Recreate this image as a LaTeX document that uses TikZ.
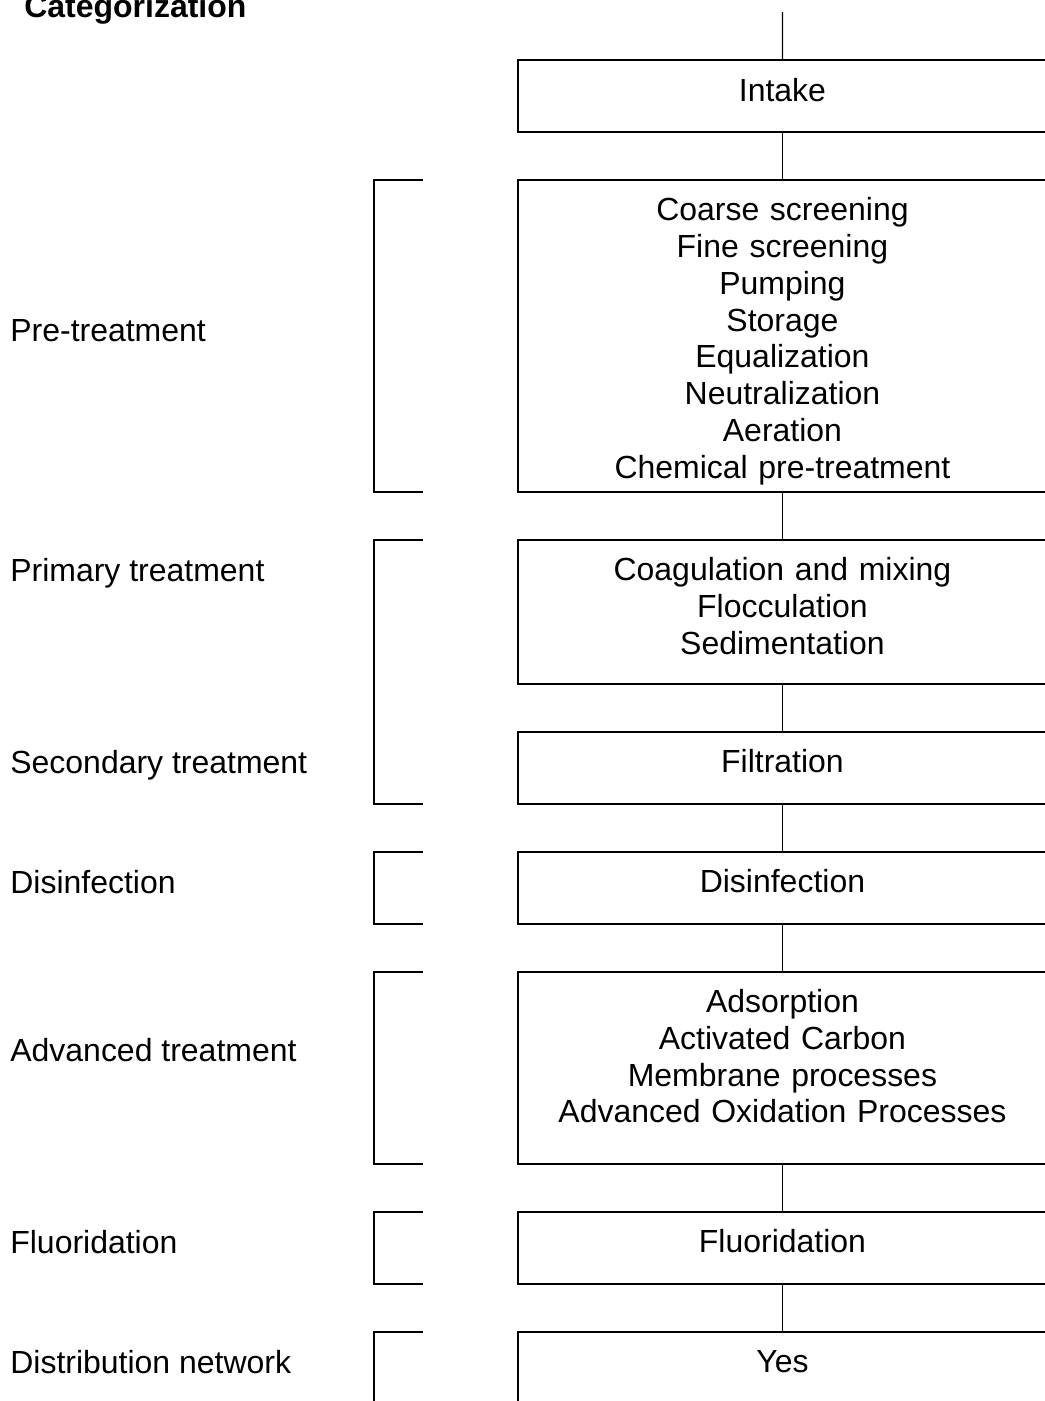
\documentclass[tikz,border=0pt]{standalone}
\usepackage{fontspec}
\setmainfont{Liberation Sans}
\usepackage{tikz}
\usetikzlibrary{positioning}

\begin{document}
\begin{tikzpicture}[
        x=0.02cm, y=-0.02cm,
        node distance=0.96cm,
        stage/.style={rectangle, draw=black, line width=0.9pt, minimum width=10.58cm, inner sep=0pt, outer sep=0pt},
        stagetext/.style={text width=10cm, align=center, inner sep=0pt, anchor=base, font=\fontsize{18.2}{20.9}\selectfont},
        cat/.style={anchor=base west, inner sep=0pt, font=\fontsize{18.2}{20.9}\selectfont},
        bracket/.style={draw=black, line width=0.9pt},
        link/.style={draw=black, line width=0.6pt},
    ]
        \useasboundingbox (0,0) rectangle (1045,1401);

        % Title
        \node[cat, font=\fontsize{18.2}{20.9}\selectfont\bfseries] (title) at (24,17) {Categorization};

        % Stages
        \coordinate (inflow) at (782.5,12);
        \node[stage, minimum height=1.44cm, anchor=north west] (intake) at (518,60) {};
        \node[stage, minimum height=6.24cm, below=of intake] (pre) {};
        \node[stage, minimum height=2.88cm, below=of pre] (prim) {};
        \node[stage, minimum height=1.44cm, below=of prim] (filt) {};
        \node[stage, minimum height=1.44cm, below=of filt] (dis) {};
        \node[stage, minimum height=3.84cm, below=of dis] (adv) {};
        \node[stage, minimum height=1.44cm, below=of adv] (fluor) {};
        \node[stage, minimum height=2.88cm, below=of fluor] (yes) {};

        % Stage texts
        \node[stagetext] (intakeText) at ([yshift=-0.82cm]intake.north) {Intake};
        \node[stagetext] (preText) at ([yshift=-0.82cm]pre.north) {Coarse screening\\Fine screening\\Pumping\\Storage\\Equalization\\Neutralization\\Aeration\\Chemical pre-treatment};
        \node[stagetext] (primText) at ([yshift=-0.82cm]prim.north) {Coagulation and mixing\\Flocculation\\Sedimentation};
        \node[stagetext] (filtText) at ([yshift=-0.82cm]filt.north) {Filtration};
        \node[stagetext] (disText) at ([yshift=-0.82cm]dis.north) {Disinfection};
        \node[stagetext] (advText) at ([yshift=-0.82cm]adv.north) {Adsorption\\Activated Carbon\\Membrane processes\\Advanced Oxidation Processes};
        \node[stagetext] (fluorText) at ([yshift=-0.82cm]fluor.north) {Fluoridation};
        \node[stagetext] (yesText) at ([yshift=-0.82cm]yes.north) {Yes};

        % Categories
        \node[cat] (lPre) at (10,341) {Pre-treatment};
        \node[cat] (lPrim) at (10,581) {Primary treatment};
        \node[cat] (lSec) at (10,773) {Secondary treatment};
        \node[cat] (lDis) at (10,893) {Disinfection};
        \node[cat] (lAdv) at (10,1061) {Advanced treatment};
        \node[cat] (lFluor) at (10,1253) {Fluoridation};
        \node[cat] (lDist) at (10,1373) {Distribution network};

        % Brackets
        \foreach \a/\b in {pre/pre, prim/filt, dis/dis, adv/adv, fluor/fluor, yes/yes}
            \draw[bracket] ([xshift=-1.9cm]\a.north west) -- ++(-49,0) |- ([xshift=-1.9cm]\b.south west);

        % Links
        \draw[link] (inflow) -- (intake);
        \draw[link] (intake) -- (pre);
        \draw[link] (pre) -- (prim);
        \draw[link] (prim) -- (filt);
        \draw[link] (filt) -- (dis);
        \draw[link] (dis) -- (adv);
        \draw[link] (adv) -- (fluor);
        \draw[link] (fluor) -- (yes);
    \end{tikzpicture}
\end{document}
